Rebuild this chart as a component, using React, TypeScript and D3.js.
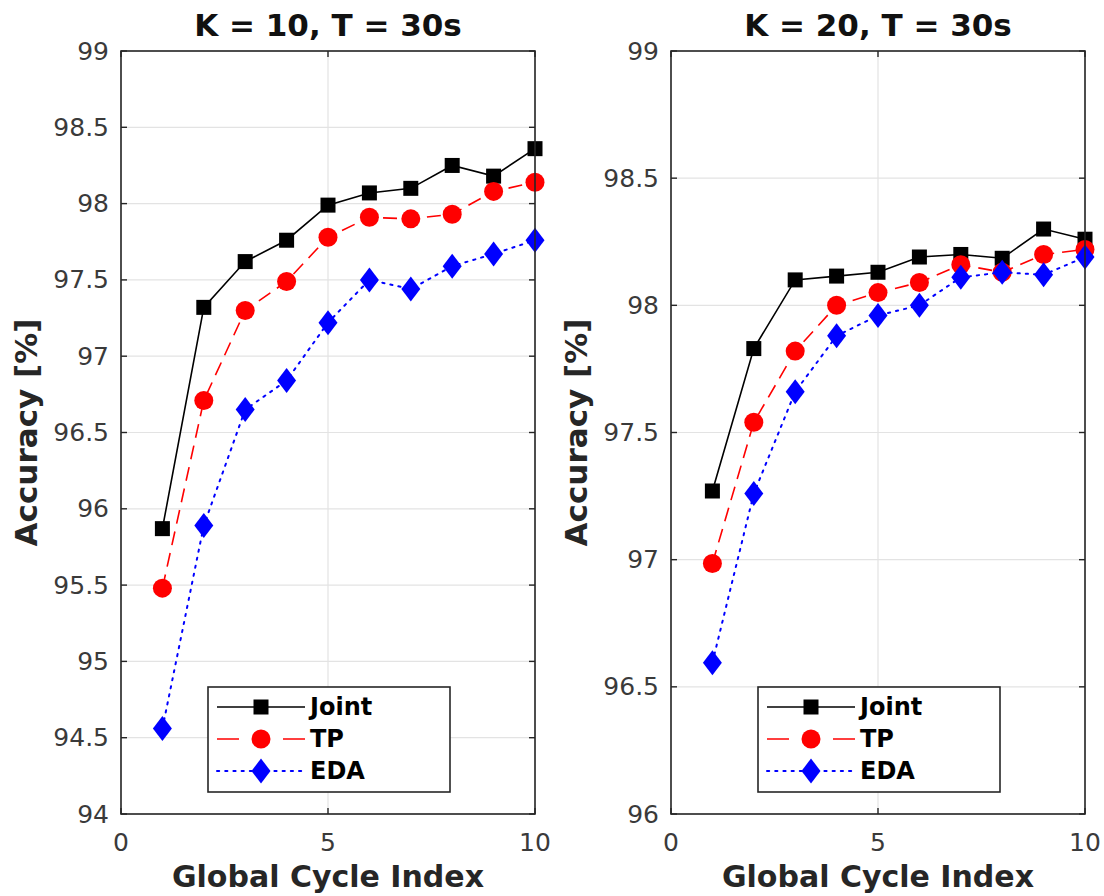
import React from "react";
import * as d3 from "d3";

const cycles = [1, 2, 3, 4, 5, 6, 7, 8, 9, 10];

const jointK10 = [95.87, 97.32, 97.62, 97.76, 97.99, 98.07, 98.1, 98.25, 98.18, 98.36];
const tpK10 = [95.48, 96.71, 97.3, 97.49, 97.78, 97.91, 97.9, 97.93, 98.08, 98.14];
const edaK10 = [94.56, 95.89, 96.65, 96.84, 97.22, 97.5, 97.44, 97.59, 97.67, 97.76];

const jointK20 = [97.27, 97.83, 98.1, 98.115, 98.13, 98.19, 98.2, 98.185, 98.3, 98.26];
const tpK20 = [96.985, 97.54, 97.82, 98.0, 98.05, 98.09, 98.16, 98.13, 98.2, 98.22];
const edaK20 = [96.595, 97.26, 97.66, 97.88, 97.96, 98.0, 98.11, 98.13, 98.12, 98.19];

const xTicks = [0, 5, 10];
const yTicksK10 = [94, 94.5, 95, 95.5, 96, 96.5, 97, 97.5, 98, 98.5, 99];
const yTicksK20 = [96, 96.5, 97, 97.5, 98, 98.5, 99];

const titles = ["K = 10, T = 30s", "K = 20, T = 30s"];
const seriesNames = ["Joint", "TP", "EDA"];
const xLabel = "Global Cycle Index";
const yLabel = "Accuracy [%]";

const FONT = "'DejaVu Sans', sans-serif";
const AX = "#262626";

type Style = { color: string; dash: string | null; width: number; marker: "square" | "circle" | "diamond" };
const styles: Style[] = [
  { color: "#000000", dash: null, width: 1.6, marker: "square" },
  { color: "#ff0000", dash: "14,8", width: 1.6, marker: "circle" },
  { color: "#0000ff", dash: "2.2,6", width: 2, marker: "diamond" },
];
const legendDash = [null, "22,44", "2.2,6"];

function Marker({ kind, x, y, color }: { kind: string; x: number; y: number; color: string }) {
  if (kind === "square") return <rect x={x - 7.5} y={y - 7.5} width={15} height={15} fill={color} />;
  if (kind === "circle") return <circle cx={x} cy={y} r={9.5} fill={color} />;
  return <path d={`M${x},${y - 12.5}L${x + 9.5},${y}L${x},${y + 12.5}L${x - 9.5},${y}Z`} fill={color} />;
}

function Panel({ left, title, yTicks, data }: { left: number; title: string; yTicks: number[]; data: number[][] }) {
  const right = left + 414;
  const top = 51;
  const bottom = 814;
  const x = d3.scaleLinear().domain([0, 10]).range([left, right]);
  const y = d3.scaleLinear().domain([yTicks[0], yTicks[yTicks.length - 1]]).range([bottom, top]);
  const tickLen = 6;
  const legX = left + 87;
  const legY = 687;
  const legW = 242;
  const legH = 105;
  return (
    <g>
      {yTicks.map((t) => (
        <line key={"gy" + t} x1={left} x2={right} y1={y(t)} y2={y(t)} stroke="#e3e3e3" strokeWidth={1.2} />
      ))}
      {xTicks.map((t) => (
        <line key={"gx" + t} x1={x(t)} x2={x(t)} y1={top} y2={bottom} stroke="#e3e3e3" strokeWidth={1.2} />
      ))}
      {data.map((vals, si) => {
        const st = styles[si];
        const line = d3
          .line<number>()
          .x((_, i) => x(cycles[i]))
          .y((v) => y(v));
        return (
          <g key={"s" + si}>
            <path
              d={line(vals) || ""}
              fill="none"
              stroke={st.color}
              strokeWidth={st.width}
              strokeDasharray={st.dash || undefined}
              strokeLinecap={si === 2 ? "round" : "butt"}
            />
            {vals.map((v, i) => (
              <Marker key={i} kind={st.marker} x={x(cycles[i])} y={y(v)} color={st.color} />
            ))}
          </g>
        );
      })}
      <rect x={left} y={top} width={right - left} height={bottom - top} fill="none" stroke={AX} strokeWidth={1.6} />
      {yTicks.map((t) => (
        <g key={"ty" + t}>
          <line x1={left} x2={left + tickLen} y1={y(t)} y2={y(t)} stroke={AX} strokeWidth={1.4} />
          <line x1={right} x2={right - tickLen} y1={y(t)} y2={y(t)} stroke={AX} strokeWidth={1.4} />
          <text
            x={left - 12}
            y={y(t)}
            textAnchor="end"
            dominantBaseline="central"
            fontFamily={FONT}
            fontSize={25}
            fill="#3a3a3a"
          >
            {d3.format("")(t)}
          </text>
        </g>
      ))}
      {xTicks.map((t) => (
        <g key={"tx" + t}>
          <line x1={x(t)} x2={x(t)} y1={bottom} y2={bottom - tickLen} stroke={AX} strokeWidth={1.4} />
          <line x1={x(t)} x2={x(t)} y1={top} y2={top + tickLen} stroke={AX} strokeWidth={1.4} />
          <text x={x(t)} y={851} textAnchor="middle" fontFamily={FONT} fontSize={25} fill="#3a3a3a">
            {t}
          </text>
        </g>
      ))}
      <text x={(left + right) / 2} y={36} textAnchor="middle" fontFamily={FONT} fontWeight="bold" fontSize={31} fill="#111">
        {title}
      </text>
      <text x={(left + right) / 2} y={887} textAnchor="middle" fontFamily={FONT} fontWeight="bold" fontSize={30} fill={AX}>
        {xLabel}
      </text>
      <text
        transform={`translate(${left - 84},${(top + bottom) / 2}) rotate(-90)`}
        textAnchor="middle"
        fontFamily={FONT}
        fontWeight="bold"
        fontSize={31}
        fill={AX}
      >
        {yLabel}
      </text>
      <rect x={legX} y={legY} width={legW} height={legH} fill="#fff" stroke={AX} strokeWidth={1.6} />
      {seriesNames.map((name, i) => {
        const st = styles[i];
        const cy = legY + 20 + i * 32;
        const dash = legendDash[i];
        return (
          <g key={"l" + i}>
            <line
              x1={legX + 9}
              x2={legX + 97}
              y1={cy}
              y2={cy}
              stroke={st.color}
              strokeWidth={st.width}
              strokeDasharray={dash || undefined}
              strokeLinecap={i === 2 ? "round" : "butt"}
            />
            <Marker kind={st.marker} x={legX + 53} y={cy} color={st.color} />
            <text x={legX + 102} y={cy} dominantBaseline="central" fontFamily={FONT} fontWeight="bold" fontSize={24} fill="#000">
              {name}
            </text>
          </g>
        );
      })}
    </g>
  );
}

export default function App() {
  return (
    <svg width={1104} height={896} style={{ position: "absolute", left: 0, top: 0, background: "#fff" }}>
      <rect width={1104} height={896} fill="#fff" />
      <Panel left={121} title={titles[0]} yTicks={yTicksK10} data={[jointK10, tpK10, edaK10]} />
      <Panel left={671} title={titles[1]} yTicks={yTicksK20} data={[jointK20, tpK20, edaK20]} />
    </svg>
  );
}
